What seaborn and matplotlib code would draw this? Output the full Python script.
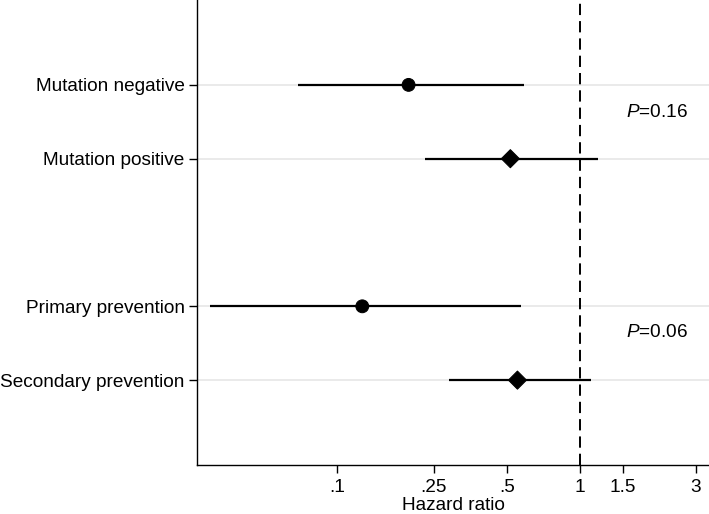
import matplotlib
matplotlib.use("Agg")
import matplotlib.pyplot as plt
import seaborn as sns
import pandas as pd
from matplotlib.ticker import FixedLocator, FixedFormatter, NullLocator

# Data
labels = ["Mutation negative", "Mutation positive", "Primary prevention", "Secondary prevention"]
hr = [0.197, 0.517, 0.127, 0.553]
ci_low = [0.069, 0.23, 0.030, 0.289]
ci_high = [0.59, 1.19, 0.57, 1.11]
group = ["negative/primary", "positive/secondary", "negative/primary", "positive/secondary"]
row_pos = [0, 1, 3, 4]
p_texts = ["0.16", "0.06"]
p_rows = [0.38, 3.36]
xticks = [0.1, 0.25, 0.5, 1, 1.5, 3]
xticklabels = [".1", ".25", ".5", "1", "1.5", "3"]

sns.set_theme(style="white")
plt.rcParams["font.family"] = ["Liberation Sans", "DejaVu Sans"]
plt.rcParams["mathtext.fontset"] = "custom"
plt.rcParams["mathtext.it"] = "Liberation Sans:italic"
plt.rcParams["mathtext.rm"] = "Liberation Sans"
for k in ["text.color", "axes.labelcolor", "xtick.color", "ytick.color"]:
    plt.rcParams[k] = "black"

FS = 13.7

df = pd.DataFrame({"label": labels, "hr": hr, "lo": ci_low, "hi": ci_high,
                   "group": group, "pos": row_pos})

fig = plt.figure(figsize=(7.09, 5.14), dpi=100)
ax = fig.add_axes([197 / 709, 49 / 514, 1 - 197 / 709, 1 - 49 / 514])

ax.set_xscale("log")
ax.set_xlim(0.0265, 3.40)
ax.set_ylim(5.15, -1.15)

# gridlines at rows
for p in df["pos"]:
    ax.axhline(p, color="#e6e6e6", lw=1.2, zorder=0)

ax.hlines(df["pos"], df["lo"], df["hi"], color="black", lw=1.6, zorder=2)
ax.axvline(1, color="black", lw=1.4, ls=(0, (5.8, 3.1)), zorder=1)

sns.scatterplot(data=df, x="hr", y="pos", style="group",
                markers={"negative/primary": "o", "positive/secondary": "D"},
                color="black", s=85, edgecolor="black", legend=False, ax=ax, zorder=3)

for t, r in zip(p_texts, p_rows):
    ax.text(2.07, r, r"$P$=" + t, ha="center", va="center", fontsize=FS)

ax.set_yticks(df["pos"])
ax.set_yticklabels(df["label"], fontsize=FS)
ax.xaxis.set_major_locator(FixedLocator(xticks))
ax.xaxis.set_major_formatter(FixedFormatter(xticklabels))
ax.xaxis.set_minor_locator(NullLocator())
ax.tick_params(axis="x", labelsize=FS, length=6, width=1, direction="out", bottom=True, color="black", pad=4)
ax.tick_params(axis="y", length=6, width=1, direction="out", left=True, color="black", pad=3)

ax.set_xlabel("Hazard ratio", fontsize=FS, labelpad=1)
ax.set_ylabel("")

for s in ["top", "right"]:
    ax.spines[s].set_visible(False)
for s in ["left", "bottom"]:
    ax.spines[s].set_color("black")
    ax.spines[s].set_linewidth(1.0)

fig.savefig("out.png", dpi=100)
